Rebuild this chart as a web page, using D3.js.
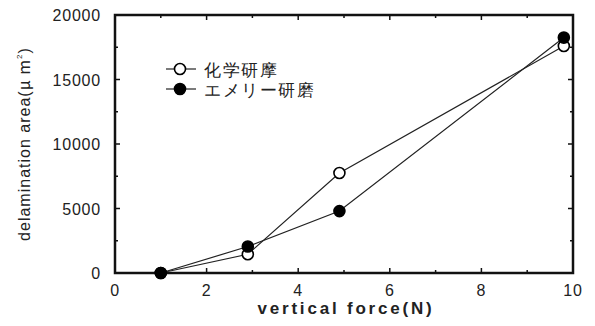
<!DOCTYPE html>
<html>
<head>
<meta charset="utf-8">
<script src="https://cdn.jsdelivr.net/npm/d3@7"></script>
<style>
  body { margin: 0; background: #fff; }
  text { font-family: "Liberation Sans", Arial, sans-serif; fill: #222; }
</style>
</head>
<body>
<div id="chart"></div>
<script>
// data
const forces = [1, 2.9, 4.9, 9.8];
const chemical = [0, 1450, 7750, 17600];
const emery = [0, 2050, 4800, 18250];
const seriesNames = ["化学研摩", "エメリー研磨"];
const xTicks = [0, 2, 4, 6, 8, 10];
const yTicks = [0, 5000, 10000, 15000, 20000];

const width = 595, height = 326;
const margin = {left: 115, right: 22, top: 15, bottom: 53};

const x = d3.scaleLinear().domain([0, 10]).range([margin.left, width - margin.right]);
const y = d3.scaleLinear().domain([0, 20000]).range([height - margin.bottom, margin.top]);

const svg = d3.select("#chart").append("svg")
  .attr("width", width)
  .attr("height", height);

// frame ticks, pointing inward on all four sides
const tickLen = 5, minorLen = 3;
const xMinor = d3.range(1, 10, 2);
const yMinor = d3.range(2500, 20000, 5000);
const frame = svg.append("g").attr("stroke", "#111").attr("stroke-width", 1.5);

xTicks.concat(xMinor).forEach(t => {
  const len = xTicks.includes(t) ? tickLen : minorLen;
  frame.append("line").attr("x1", x(t)).attr("x2", x(t))
    .attr("y1", y(0)).attr("y2", y(0) - len);
  frame.append("line").attr("x1", x(t)).attr("x2", x(t))
    .attr("y1", y(20000)).attr("y2", y(20000) + len);
});
yTicks.concat(yMinor).forEach(t => {
  const len = yTicks.includes(t) ? tickLen : minorLen;
  frame.append("line").attr("y1", y(t)).attr("y2", y(t))
    .attr("x1", x(0)).attr("x2", x(0) + len);
  frame.append("line").attr("y1", y(t)).attr("y2", y(t))
    .attr("x1", x(10)).attr("x2", x(10) - len);
});

svg.append("rect")
  .attr("x", x(0)).attr("y", y(20000))
  .attr("width", x(10) - x(0)).attr("height", y(0) - y(20000))
  .attr("fill", "none").attr("stroke", "#111").attr("stroke-width", 2.5);

// tick labels
svg.append("g").selectAll("text")
  .data(xTicks)
  .join("text")
    .attr("x", d => x(d))
    .attr("y", y(0) + 23)
    .attr("text-anchor", "middle")
    .attr("font-size", 16)
    .attr("letter-spacing", 0.8)
    .text(d => d);

svg.append("g").selectAll("text")
  .data(yTicks)
  .join("text")
    .attr("x", x(0) - 14)
    .attr("y", d => y(d) + 6)
    .attr("text-anchor", "end")
    .attr("font-size", 16)
    .attr("letter-spacing", 0.8)
    .text(d => d);

// axis titles
svg.append("text")
  .attr("x", (x(0) + x(10)) / 2 + 2)
  .attr("y", height - 12)
  .attr("text-anchor", "middle")
  .attr("font-size", 17)
  .attr("font-weight", "bold")
  .attr("letter-spacing", 2.8)
  .text("vertical force(N)");

const ylab = svg.append("text")
  .attr("transform", `translate(30, ${(y(0) + y(20000)) / 2}) rotate(-90)`)
  .attr("text-anchor", "middle")
  .attr("font-size", 16)
  .attr("letter-spacing", 1);
ylab.append("tspan").text("delamination area(");
ylab.append("tspan").attr("font-family", "Noto Sans CJK JP").text("μ m");
ylab.append("tspan").attr("font-size", 8).attr("dy", -8).text("2");
ylab.append("tspan").attr("dy", 8).text(")");

// series
const series = [
  {name: seriesNames[0], values: chemical, fill: "#fff"},
  {name: seriesNames[1], values: emery, fill: "#000"}
];
const line = d3.line().x(d => x(d[0])).y(d => y(d[1]));

series.forEach(s => {
  const pts = forces.map((f, i) => [f, s.values[i]]);
  svg.append("path")
    .attr("d", line(pts))
    .attr("fill", "none")
    .attr("stroke", "#222")
    .attr("stroke-width", 1.2);
});
series.forEach(s => {
  const pts = forces.map((f, i) => [f, s.values[i]]);
  svg.append("g").selectAll("circle")
    .data(pts)
    .join("circle")
      .attr("cx", d => x(d[0]))
      .attr("cy", d => y(d[1]))
      .attr("r", 5.5)
      .attr("fill", s.fill)
      .attr("stroke", "#000")
      .attr("stroke-width", 1.6);
});

// legend
const legend = svg.append("g").attr("transform", "translate(166, 69)");
series.forEach((s, i) => {
  const g = legend.append("g").attr("transform", `translate(0, ${i * 20})`);
  g.append("line").attr("x1", 0).attr("x2", 30).attr("stroke", "#222").attr("stroke-width", 1.2);
  g.append("circle").attr("cx", 14).attr("r", 5.5)
    .attr("fill", s.fill).attr("stroke", "#000").attr("stroke-width", 1.6);
  g.append("text")
    .attr("x", 38).attr("y", 7)
    .attr("font-family", "Noto Sans CJK JP")
    .attr("font-size", 17)
    .attr("letter-spacing", 1.5)
    .text(s.name);
});
</script>
</body>
</html>
